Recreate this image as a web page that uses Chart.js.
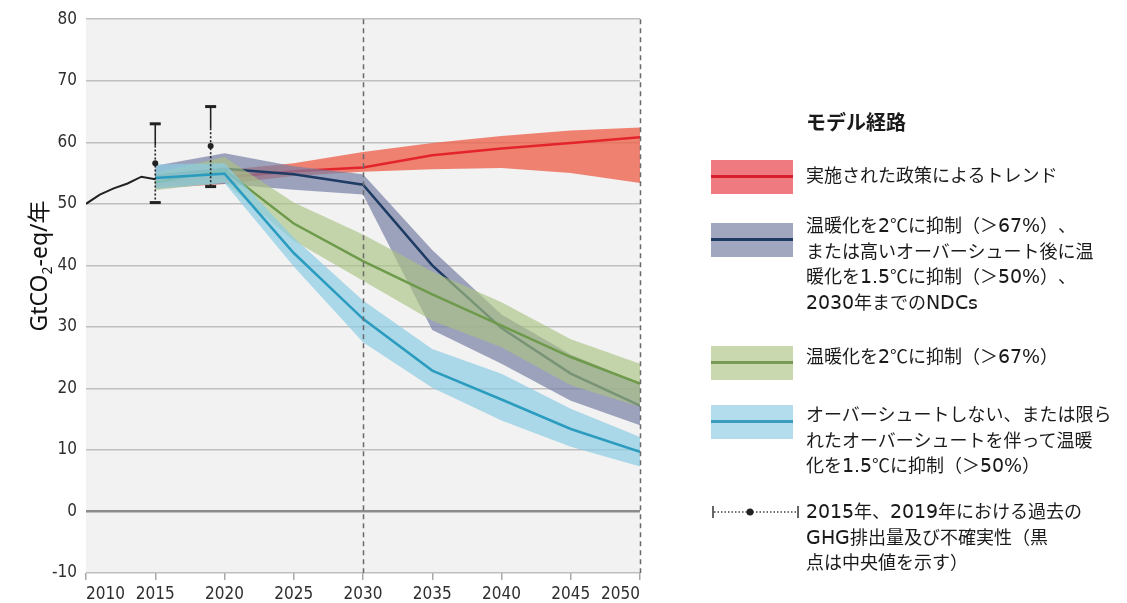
<!DOCTYPE html>
<html lang="ja">
<head>
<meta charset="utf-8">
<script src="https://cdn.jsdelivr.net/npm/chart.js@4.4.1/dist/chart.umd.min.js"></script>
<style>
  @font-face {
    font-family: 'LgLatin';
    src: local('DejaVu Sans'), local('DejaVuSans');
    unicode-range: U+0020-007E;
    size-adjust: 108%;
  }
  html, body { margin: 0; padding: 0; background: #fff; }
  #wrap { position: relative; width: 1127px; height: 603px; overflow: hidden; }
  #chart { position: absolute; left: 0; top: 0; }
  .lg { position: absolute; font-family: 'LgLatin', 'Noto Sans CJK JP', sans-serif; color: #1a1a1a; white-space: nowrap; text-spacing-trim: space-all; }
  .lg-title { left: 806px; top: 107px; font-size: 20px; font-weight: bold; line-height: 30px; font-family: 'Noto Sans CJK JP', sans-serif; }
  .lg-text { left: 806px; font-size: 18px; line-height: 25.5px; }
  .sw { position: absolute; left: 711px; width: 82px; height: 34px; }
  .sw i { position: absolute; left: 0; right: 0; top: 15px; height: 3px; }
</style>
</head>
<body>
<div id="wrap">
  <canvas id="chart" width="1127" height="603"></canvas>

  <div class="lg lg-title">モデル経路</div>

  <div class="sw" style="top:160px;background:#ef7a80;"><i style="background:#d8202c;"></i></div>
  <div class="lg lg-text" style="top:163px;">実施された政策によるトレンド</div>

  <div class="sw" style="top:223px;background:#a2a7c0;"><i style="background:#1d3b63;"></i></div>
  <div class="lg lg-text" style="top:213px;">温暖化を2℃に抑制（＞67%）、<br>または高いオーバーシュート後に温<br>暖化を1.5℃に抑制（＞50%）、<br>2030年までのNDCs</div>

  <div class="sw" style="top:346px;background:#cad8b0;"><i style="background:#789a56;"></i></div>
  <div class="lg lg-text" style="top:344px;">温暖化を2℃に抑制（＞67%）</div>

  <div class="sw" style="top:405px;background:#b3dcec;"><i style="background:#3a9dc0;"></i></div>
  <div class="lg lg-text" style="top:402px;">オーバーシュートしない、または限ら<br>れたオーバーシュートを伴って温暖<br>化を1.5℃に抑制（＞50%）</div>

  <svg style="position:absolute;left:710px;top:502px;" width="94" height="20">
    <line x1="3" y1="4" x2="3" y2="16" stroke="#333" stroke-width="1.5"/>
    <line x1="88" y1="4" x2="88" y2="16" stroke="#333" stroke-width="1.5"/>
    <line x1="4" y1="10" x2="87" y2="10" stroke="#444" stroke-width="1.5" stroke-dasharray="1.5,2"/>
    <circle cx="40" cy="10" r="3.5" fill="#222"/>
  </svg>
  <div class="lg lg-text" style="top:499px;">2015年、2019年における過去の<br>GHG排出量及び不確実性（黒<br>点は中央値を示す）</div>
</div>

<script>
// historical emissions
const histYears = [2010, 2011, 2012, 2013, 2014, 2015];
const histValues = [50.0, 51.5, 52.5, 53.3, 54.4, 54.0];

// 2015 / 2019 estimates with uncertainty
const errYears = [2015, 2019];
const errMedian = [56.6, 59.4];
const errLow = [50.2, 52.8];
const errHigh = [63.0, 65.8];

// modelled pathways
const pathYears = [2015, 2020, 2025, 2030, 2035, 2040, 2045, 2050];

const policyMid = [53.5, 54.3, 55.3, 55.9, 57.9, 59.0, 59.9, 60.8];
const policyHigh = [54.5, 55.5, 56.6, 58.4, 59.9, 61.0, 61.9, 62.4];
const policyLow = [52.5, 53.2, 54.5, 55.2, 55.6, 55.8, 55.0, 53.4];

const ndcMid = [54.5, 55.7, 54.8, 53.1, 40.0, 29.8, 22.4, 17.2];
const ndcHigh = [56.2, 58.2, 56.1, 54.8, 42.5, 32.0, 25.5, 20.8];
const ndcLow = [52.8, 53.2, 52.3, 51.5, 29.5, 24.0, 18.0, 14.0];

const twoMid = [53.5, 55.5, 46.8, 40.7, 35.3, 30.2, 25.1, 20.8];
const twoHigh = [55.0, 57.6, 50.2, 45.0, 39.0, 34.0, 28.0, 24.0];
const twoLow = [52.2, 53.5, 44.0, 37.5, 31.0, 26.7, 20.5, 17.0];

const lowMid = [54.2, 54.9, 42.0, 31.3, 22.9, 18.2, 13.4, 9.7];
const lowHigh = [56.4, 56.6, 44.5, 34.3, 26.4, 22.4, 16.7, 12.1];
const lowLow = [52.4, 53.4, 39.8, 27.5, 20.1, 14.8, 10.5, 7.3];

const dashedYears = [2030, 2050];
const xTicks = [2010, 2015, 2020, 2025, 2030, 2035, 2040, 2045, 2050];
const yTicks = [-10, 0, 10, 20, 30, 40, 50, 60, 70, 80];

function pts(xs, ys) {
  return xs.map((x, i) => ({ x: x, y: ys[i] }));
}

// one scenario = centre line + shaded band (upper filled down to lower)
function scenario(mid, high, low, line, band, order) {
  return [
    { data: pts(pathYears, mid), borderColor: line, borderWidth: 2.5, fill: false, order: order },
    { data: pts(pathYears, high), borderColor: 'transparent', borderWidth: 0, backgroundColor: band, fill: '+1', order: order },
    { data: pts(pathYears, low), borderColor: 'transparent', borderWidth: 0, fill: false, order: order }
  ];
}

const datasets = [
  ...scenario(policyMid, policyHigh, policyLow, '#e3242b', 'rgba(238,100,80,0.8)', 4),
  ...scenario(ndcMid, ndcHigh, ndcLow, '#1d3b63', 'rgba(120,128,165,0.7)', 3),
  ...scenario(twoMid, twoHigh, twoLow, '#6e9a4c', 'rgba(170,195,130,0.65)', 2),
  ...scenario(lowMid, lowHigh, lowLow, '#2b9cbf', 'rgba(140,205,228,0.7)', 1),
  { data: pts(histYears, histValues), borderColor: '#222', borderWidth: 2, fill: false, order: 0 }
];

const plotBackground = {
  id: 'plotBackground',
  beforeDraw(chart) {
    const { ctx, chartArea: a } = chart;
    ctx.save();
    ctx.fillStyle = '#f2f2f2';
    ctx.fillRect(a.left, a.top, a.right - a.left, a.bottom - a.top);
    ctx.restore();
  }
};

const overlays = {
  id: 'overlays',
  afterDatasetsDraw(chart) {
    const { ctx, chartArea: a, scales } = chart;
    const xs = scales.x, ys = scales.y;
    ctx.save();
    // dashed year markers
    ctx.strokeStyle = '#6a6a6a';
    ctx.lineWidth = 1.5;
    ctx.setLineDash([5, 4]);
    dashedYears.forEach(yr => {
      const x = Math.round(xs.getPixelForValue(yr)) + 0.5;
      ctx.beginPath();
      ctx.moveTo(x, a.top);
      ctx.lineTo(x, a.bottom);
      ctx.stroke();
    });
    // uncertainty bars
    ctx.strokeStyle = '#222';
    errYears.forEach((yr, i) => {
      const x = xs.getPixelForValue(yr);
      const top = ys.getPixelForValue(errHigh[i]);
      const med = ys.getPixelForValue(errMedian[i]);
      const bot = ys.getPixelForValue(errLow[i]);
      const split = top + (med - top) * 0.55;
      ctx.lineWidth = 1.6;
      ctx.setLineDash([]);
      ctx.beginPath(); ctx.moveTo(x, top); ctx.lineTo(x, split); ctx.stroke();
      ctx.setLineDash([2, 2]);
      ctx.beginPath(); ctx.moveTo(x, split); ctx.lineTo(x, bot); ctx.stroke();
      ctx.setLineDash([]);
      ctx.lineWidth = 3;
      [top, bot].forEach(y => {
        ctx.beginPath(); ctx.moveTo(x - 5.5, y); ctx.lineTo(x + 5.5, y); ctx.stroke();
      });
      ctx.fillStyle = '#222';
      ctx.beginPath(); ctx.arc(x, med, 3, 0, Math.PI * 2); ctx.fill();
    });
    ctx.restore();
  }
};

// y-axis title with subscript 2
const yTitle = {
  id: 'yTitle',
  afterDraw(chart) {
    const ctx = chart.ctx;
    const parts = [
      { t: 'GtCO', size: 23, dy: 0 },
      { t: '2', size: 14, dy: 5 },
      { t: '-eq/年', size: 23, dy: 0 }
    ];
    ctx.save();
    let total = 0;
    parts.forEach(p => {
      ctx.font = p.size + "px 'Noto Sans', 'Noto Sans CJK JP', sans-serif";
      p.w = ctx.measureText(p.t).width;
      total += p.w;
    });
    ctx.translate(47, 266);
    ctx.rotate(-Math.PI / 2);
    ctx.fillStyle = '#111';
    ctx.textBaseline = 'alphabetic';
    let x = -total / 2;
    parts.forEach(p => {
      ctx.font = p.size + "px 'Noto Sans', 'Noto Sans CJK JP', sans-serif";
      ctx.fillText(p.t, x, p.dy);
      x += p.w;
    });
    ctx.restore();
  }
};

const tickFont = { family: "'Liberation Sans Narrow', 'DejaVu Sans Condensed', sans-serif", size: 17 };

new Chart(document.getElementById('chart'), {
  type: 'line',
  data: { datasets: datasets },
  options: {
    responsive: false,
    animation: false,
    events: [],
    layout: { padding: { top: 17, right: 487, left: 0, bottom: 0 } },
    elements: { point: { radius: 0 }, line: { tension: 0 } },
    plugins: { legend: { display: false }, tooltip: { enabled: false } },
    scales: {
      x: {
        type: 'linear',
        min: 2010,
        max: 2050,
        afterFit(s) { s.height = 30; },
        afterBuildTicks(s) { s.ticks = xTicks.map(v => ({ value: v })); },
        ticks: { align: 'inner', padding: 4, color: '#2e2e2e', font: tickFont, callback: v => String(v), maxRotation: 0 },
        grid: { drawOnChartArea: false, drawTicks: true, tickLength: 7, color: '#a8a8a8', lineWidth: 1.5 },
        border: { display: false }
      },
      y: {
        min: -10,
        max: 80,
        afterFit(s) { s.width = 86; },
        afterBuildTicks(s) { s.ticks = yTicks.map(v => ({ value: v })); },
        ticks: { padding: 9, color: '#2e2e2e', font: tickFont },
        grid: {
          drawTicks: false,
          color: ctx => ctx.tick && ctx.tick.value === 0 ? '#8c8c8c' : '#bfbfbf',
          lineWidth: ctx => ctx.tick && ctx.tick.value === 0 ? 2.5 : 1.5
        },
        border: { display: false }
      }
    }
  },
  plugins: [plotBackground, overlays, yTitle]
});
</script>
</body>
</html>
